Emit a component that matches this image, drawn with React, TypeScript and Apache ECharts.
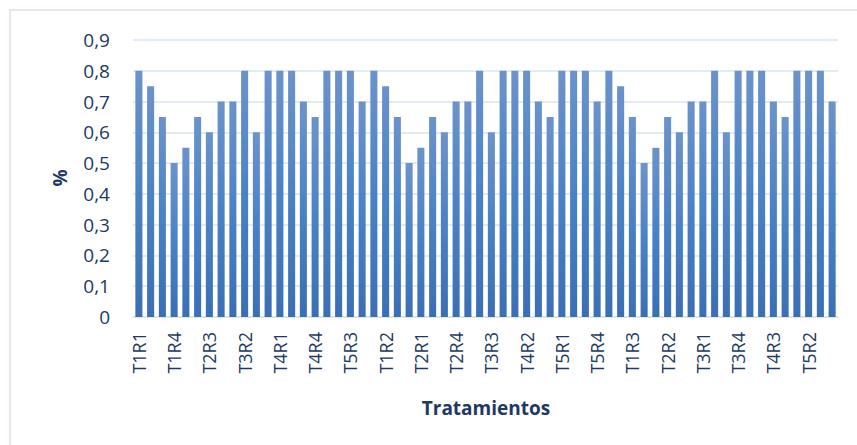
import React, { useEffect, useRef } from "react";
import * as echarts from "echarts";

const groupLabels = [
  "T1R1", "T1R2", "T1R3", "T1R4",
  "T2R1", "T2R2", "T2R3", "T2R4",
  "T3R1", "T3R2", "T3R3", "T3R4",
  "T4R1", "T4R2", "T4R3", "T4R4",
  "T5R1", "T5R2", "T5R3", "T5R4",
];
const categories = [...groupLabels, ...groupLabels, ...groupLabels];

const values1 = [0.8, 0.75, 0.65, 0.5, 0.55, 0.65, 0.6, 0.7, 0.7, 0.8, 0.6, 0.8, 0.8, 0.8, 0.7, 0.65, 0.8, 0.8, 0.8, 0.7];
const values2 = [0.8, 0.75, 0.65, 0.5, 0.55, 0.65, 0.6, 0.7, 0.7, 0.8, 0.6, 0.8, 0.8, 0.8, 0.7, 0.65, 0.8, 0.8, 0.8, 0.7];
const values3 = [0.8, 0.75, 0.65, 0.5, 0.55, 0.65, 0.6, 0.7, 0.7, 0.8, 0.6, 0.8, 0.8, 0.8, 0.7, 0.65, 0.8, 0.8, 0.8, 0.7];
const values = [...values1, ...values2, ...values3];

const yTicks = { min: 0, max: 0.9, interval: 0.1 };
const xTitle = "Tratamientos";
const yTitle = "%";

export default function App() {
  const ref = useRef<HTMLDivElement>(null);
  useEffect(() => {
    document.body.style.margin = "0";
    const chart = echarts.init(ref.current!, null, { renderer: "svg" });
    const textColor = "#203864";
    const gridColor = "#D9E3F3";
    chart.setOption({
      animation: false,
      backgroundColor: "#ffffff",
      grid: { left: 133, right: 19, top: 40, bottom: 128, containLabel: false },
      xAxis: {
        type: "category",
        data: categories,
        axisLine: { show: true, lineStyle: { color: gridColor, width: 1.5 } },
        axisTick: { show: false },
        axisLabel: {
          interval: 2,
          rotate: 90,
          margin: 15,
          color: textColor,
          fontFamily: "Open Sans",
          fontSize: 18,
        },
      },
      yAxis: {
        type: "value",
        min: yTicks.min,
        max: yTicks.max,
        interval: yTicks.interval,
        axisLine: { show: false },
        axisTick: { show: false },
        splitLine: { lineStyle: { color: gridColor, width: 1.5 } },
        axisLabel: {
          margin: 23,
          color: textColor,
          fontFamily: "Open Sans",
          fontSize: 19,
          formatter: (v: number) => (Math.round(v * 10) / 10).toString().replace(".", ","),
        },
      },
      series: [
        {
          type: "bar",
          data: values,
          barWidth: "60%",
          itemStyle: {
            color: new echarts.graphic.LinearGradient(0, 0, 0, 1, [
              { offset: 0, color: "#6C93CA" },
              { offset: 0.5, color: "#4A82C6" },
              { offset: 1, color: "#3B6FB3" },
            ]),
          },
        },
      ],
      graphic: [
        {
          type: "rect",
          shape: { x: 10, y: 10, width: 1000, height: 1000 },
          style: { fill: "none", stroke: "#D6E0F0", lineWidth: 1.5 },
          silent: true,
        },
        {
          type: "text",
          x: 486,
          y: 408,
          style: {
            text: xTitle,
            align: "center",
            verticalAlign: "middle",
            fill: textColor,
            fontFamily: "Open Sans",
            fontWeight: "bold",
            fontSize: 19,
          },
        },
        {
          type: "text",
          x: 60,
          y: 178,
          rotation: Math.PI / 2,
          style: {
            text: yTitle,
            align: "center",
            verticalAlign: "middle",
            fill: textColor,
            fontFamily: "Open Sans",
            fontWeight: "bold",
            fontSize: 19,
          },
        },
      ],
    });
    return () => chart.dispose();
  }, []);
  return <div ref={ref} style={{ width: 857, height: 445 }} />;
}
